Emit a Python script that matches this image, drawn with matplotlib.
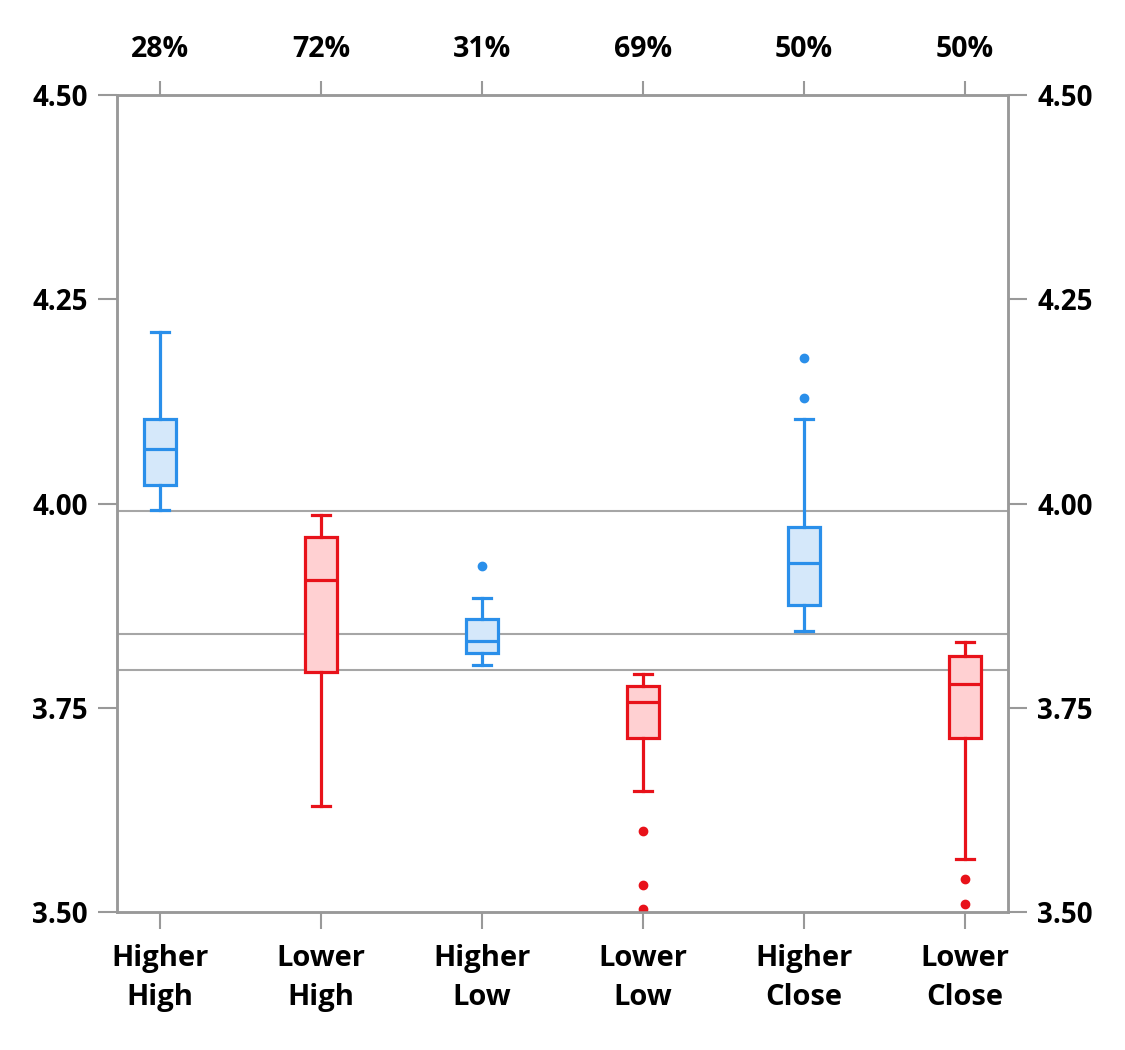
import matplotlib
matplotlib.use("Agg")
import matplotlib.pyplot as plt

categories = ["Higher\nHigh", "Lower\nHigh", "Higher\nLow", "Lower\nLow", "Higher\nClose", "Lower\nClose"]
pct_labels = ["28%", "72%", "31%", "69%", "50%", "50%"]
whislo = [3.992, 3.630, 3.802, 3.648, 3.844, 3.565]
q1     = [4.023, 3.794, 3.817, 3.713, 3.876, 3.713]
med    = [4.067, 3.906, 3.832, 3.757, 3.927, 3.779]
q3     = [4.103, 3.959, 3.859, 3.777, 3.971, 3.813]
whishi = [4.210, 3.986, 3.884, 3.791, 4.103, 3.830]
fliers = [[], [], [3.924], [3.599, 3.533, 3.504], [4.178, 4.129], [3.540, 3.510]]
ref_lines = [3.991, 3.840, 3.796]
kind = ["up", "down", "up", "down", "up", "down"]
yticks = [3.50, 3.75, 4.00, 4.25, 4.50]

colors = {"up": ("#2A8FEA", "#D5E8FA"), "down": ("#E8121A", "#FFD0D2")}
font = ["Open Sans", "DejaVu Sans"]
plt.rcParams["font.family"] = font
plt.rcParams["font.weight"] = "bold"

fig = plt.figure(figsize=(11.25, 10.5), dpi=100)
ax = fig.add_axes([0.104, 0.1314, 0.792, 0.7781])

for y in ref_lines:
    ax.axhline(y, color="#A6A6A6", lw=1.5, zorder=1)

for i in range(len(categories)):
    edge, fill = colors[kind[i]]
    st = [dict(whislo=whislo[i], q1=q1[i], med=med[i], q3=q3[i], whishi=whishi[i], fliers=fliers[i])]
    ax.bxp(st, positions=[i], widths=0.2, capwidths=0.11, patch_artist=True,
           boxprops=dict(facecolor=fill, edgecolor=edge, linewidth=2.3),
           medianprops=dict(color=edge, linewidth=2.3),
           whiskerprops=dict(color=edge, linewidth=2.3),
           capprops=dict(color=edge, linewidth=2.3),
           flierprops=dict(marker="o", markerfacecolor=edge, markeredgecolor=edge, markersize=6),
           manage_ticks=False, zorder=3)

ax.set_xlim(-0.267, 5.267)
ax.set_ylim(3.50, 4.50)
ax.set_xticks(range(len(categories)))
ax.set_xticklabels(categories, fontsize=21, fontweight="bold", linespacing=1.45)
ax.set_yticks(yticks)
ax.set_yticklabels([f"{v:.2f}" for v in yticks], fontsize=20, fontweight="bold")
ax.tick_params(axis="y", which="both", left=True, right=True, labelleft=True, labelright=True,
               length=14, width=1.5, color="#999999", pad=7)
ax.tick_params(axis="x", length=12, width=1.5, color="#999999", pad=11)

top = ax.twiny()
top.set_xlim(ax.get_xlim())
top.set_xticks(range(len(categories)))
top.set_xticklabels(pct_labels, fontsize=20.5, fontweight="bold")
top.tick_params(axis="x", length=10, width=1.5, color="#999999", pad=12)

for a in (ax, top):
    for s in a.spines.values():
        s.set_color("#999999")
        s.set_linewidth(1.8)

fig.savefig("out.png", dpi=100, facecolor="white")
